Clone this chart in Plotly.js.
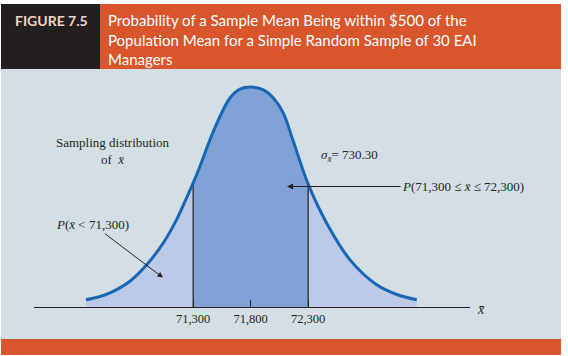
<!DOCTYPE html>
<html>
<head>
<meta charset="utf-8">
<script src="https://cdn.plot.ly/plotly-3.0.1.min.js"></script>
<style>html,body{margin:0;padding:0;background:#fff;}#chart{width:568px;height:356px;}</style>
</head>
<body>
<div id="chart"></div>
<script>
// Sampling distribution of x-bar (heights, density x 1e4)
const curveX = [70368, 70490, 70605, 70750, 70896, 71040, 71156, 71243, 71300, 71359, 71446, 71533, 71620, 71707, 71800, 71910, 71997, 72083, 72170, 72300, 72461, 72664, 72896, 73070, 73244];
const curveY = [0.18, 0.26, 0.39, 0.64, 1.05, 1.59, 2.17, 2.71, 3.08, 3.49, 4.15, 4.73, 5.19, 5.41, 5.46, 5.39, 5.19, 4.82, 4.12, 3.05, 2.08, 1.17, 0.55, 0.31, 0.18];
const lowerBound = 71300;
const upperBound = 72300;
const tickVals = [71300, 71800, 72300];
const tickText = ['71,300', '71,800', '72,300'];
const headerLabel = 'FIGURE 7.5';
const titleText = 'Probability of a Sample Mean Being within $500 of the<br>Population Mean for a Simple Random Sample of 30 EAI<br>Managers';

const XB = 'x\u0304';
const textDark = '#231f20';
const serif = 'Liberation Serif, Times New Roman, serif';

// plot area geometry (pixels)
const L = 34, W = 436, T = 75, H = 232;
const px = x => (x - L) / W;
const py = y => (T + H - y) / H;

const midX = [], midY = [];
curveX.forEach((x, i) => { if (x >= lowerBound && x <= upperBound) { midX.push(x); midY.push(curveY[i]); } });
const hLo = curveY[curveX.indexOf(lowerBound)];
const hHi = curveY[curveX.indexOf(upperBound)];

const traces = [
  {x: curveX, y: curveY, type: 'scatter', mode: 'lines', fill: 'tozeroy', fillcolor: '#bccae8',
   line: {width: 0, shape: 'spline', color: 'rgba(0,0,0,0)'}, hoverinfo: 'skip'},
  {x: midX, y: midY, type: 'scatter', mode: 'lines', fill: 'tozeroy', fillcolor: '#80a2d6',
   line: {width: 0, shape: 'spline', color: 'rgba(0,0,0,0)'}, hoverinfo: 'skip'},
  {x: [lowerBound, lowerBound], y: [0, hLo], type: 'scatter', mode: 'lines', line: {color: textDark, width: 1.2}, hoverinfo: 'skip'},
  {x: [upperBound, upperBound], y: [0, hHi], type: 'scatter', mode: 'lines', line: {color: textDark, width: 1.2}, hoverinfo: 'skip'},
  {x: curveX, y: curveY, type: 'scatter', mode: 'lines', line: {width: 3, shape: 'spline', color: '#1866b4'}, hoverinfo: 'skip'}
];

function rect(x0, y0, x1, y1, color) {
  return {type: 'rect', xref: 'paper', yref: 'paper', x0: px(x0), x1: px(x1), y0: py(y1), y1: py(y0),
          fillcolor: color, line: {width: 0}, layer: 'below'};
}
function txt(text, x, y, opts) {
  return Object.assign({text: text, xref: 'paper', yref: 'paper', x: px(x), y: py(y), showarrow: false,
    xanchor: 'left', yanchor: 'middle', font: {family: serif, size: 13, color: textDark}}, opts || {});
}

const layout = {
  width: 568, height: 356,
  margin: {l: L, r: 568 - L - W, t: T, b: 356 - T - H, pad: 0},
  paper_bgcolor: '#ffffff', plot_bgcolor: 'rgba(0,0,0,0)',
  showlegend: false,
  xaxis: {range: [69916, 73707], showgrid: false, zeroline: false, showline: true, linecolor: textDark, linewidth: 1.3,
          ticks: 'inside', ticklen: 7, tickwidth: 1, tickcolor: textDark, tickvals: tickVals, ticktext: tickText,
          tickfont: {family: serif, size: 12.5, color: textDark}, fixedrange: true},
  yaxis: {range: [0, 5.76], visible: false, fixedrange: true},
  shapes: [
    rect(1, 69, 561, 339, '#d4dfe5'),
    rect(1, 4, 100, 69, '#231f20'),
    rect(100, 4, 561, 69, '#d9552b'),
    rect(1, 339, 561, 355, '#d9552b')
  ],
  annotations: [
    txt('<b>' + headerLabel + '</b>', 13, 20, {font: {family: 'Lato, Open Sans, sans-serif', size: 14, color: '#f3d5c2'}}),
    txt(titleText, 106, 39, {align: 'left', font: {family: 'Lato, Open Sans, sans-serif', size: 15, color: '#ffffff'}}),
    txt('Sampling distribution<br>of  <i>' + XB + '</i>', 113, 151, {xanchor: 'center', align: 'center'}),
    txt('<i>\u03c3</i><sub><i>' + XB + '</i></sub>= 730.30', 319, 155),
    txt('<i>' + XB + '</i>', 475, 309, {font: {family: serif, size: 14, color: textDark}}),
    {x: 71037, y: 0.73, xref: 'x', yref: 'y', text: '<i>P</i>(<i>' + XB + '</i> < 71,300)', showarrow: true, ax: -70, ay: -53,
     arrowhead: 2, arrowsize: 1.1, arrowwidth: 1, arrowcolor: textDark, font: {family: serif, size: 13, color: textDark}},
    {x: 72116, y: 2.99, xref: 'x', yref: 'y', text: '<i>P</i>(71,300 \u2264 <i>' + XB + '</i> \u2264 72,300)', showarrow: true, ax: 176, ay: 0,
     arrowhead: 2, arrowsize: 1.1, arrowwidth: 1.1, arrowcolor: textDark, font: {family: serif, size: 13, color: textDark}}
  ]
};

Plotly.newPlot('chart', traces, layout, {staticPlot: true, displayModeBar: false});
</script>
</body>
</html>
